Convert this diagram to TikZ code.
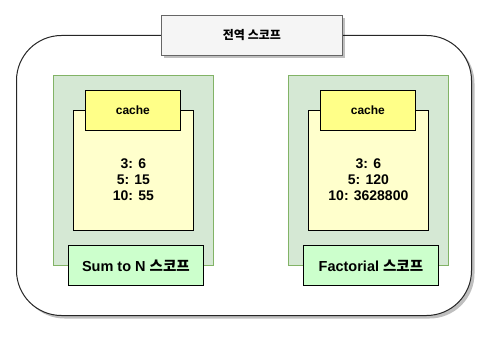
\documentclass[tikz,border=0pt]{standalone}
\usepackage{fontspec}
\setmainfont{Liberation Sans}
\newfontfamily\kr{Noto Sans CJK KR}
\usetikzlibrary{shadows}
\definecolor{greenfill}{HTML}{D5E8D4}
\definecolor{greenline}{HTML}{82B366}
\definecolor{cachefill}{HTML}{FFFFCC}
\definecolor{cachehead}{HTML}{FFFF88}
\definecolor{scopefill}{HTML}{CCFFCC}
\definecolor{titlefill}{HTML}{F5F5F5}
\definecolor{titleline}{HTML}{666666}
\begin{document}
\begin{tikzpicture}[x=1pt,y=-1pt,
  box/.style={draw,line width=0.8pt,anchor=north west,inner sep=0pt},
  greenbox/.style={box,fill=greenfill,draw=greenline},
  cachebody/.style={box,fill=cachefill,draw=black},
  vals/.style={align=center,inner sep=0pt,font=\bfseries\fontsize{14}{16}\selectfont},
  cachelabel/.style={box,fill=cachehead,draw=black,font=\bfseries\fontsize{12}{14}\selectfont},
  scopelabel/.style={box,fill=scopefill,draw=black,font=\bfseries\fontsize{14.5}{17}\selectfont},
  softshadow/.style={drop shadow={shadow xshift=3pt,shadow yshift=-3pt,fill=black,opacity=0.25}}
]
\useasboundingbox (0,0) rectangle (497,342);
\node[box,rounded corners=45pt,fill=white,draw=black!85,line width=1pt,
  minimum width=455pt,minimum height=280pt,softshadow] (outer) at (16,35) {};
\node[box,fill=titlefill,draw=titleline,minimum width=181pt,minimum height=40pt,
  font=\fontsize{12}{14}\selectfont,softshadow] (title) at (161,15) {\kr\bfseries 전역 스코프};
% left
\node[greenbox,minimum width=160pt,minimum height=190pt] (lgreen) at (53,75) {};
\node[cachebody,minimum width=120pt,minimum height=120pt] (lcache) at (73,110) {};
\node[vals] (lvals) at ([yshift=-9pt]lcache.center) {3: 6\\5: 15\\10: 55};
\node[cachelabel,minimum width=95pt,minimum height=40pt] (lhead) at (85,90) {cache};
\node[scopelabel,minimum width=135pt,minimum height=40pt] (lscope) at (68,245) {Sum to N {\kr\bfseries 스코프}};
% right
\node[greenbox,minimum width=160pt,minimum height=190pt] (rgreen) at (288,75) {};
\node[cachebody,minimum width=120pt,minimum height=120pt] (rcache) at (308,110) {};
\node[vals] (rvals) at ([yshift=-9pt]rcache.center) {3: 6\\5: 120\\10: 3628800};
\node[cachelabel,minimum width=95pt,minimum height=40pt] (rhead) at (320,90) {cache};
\node[scopelabel,minimum width=135pt,minimum height=40pt] (rscope) at (303,245) {Factorial {\kr\bfseries 스코프}};
\end{tikzpicture}
\end{document}
